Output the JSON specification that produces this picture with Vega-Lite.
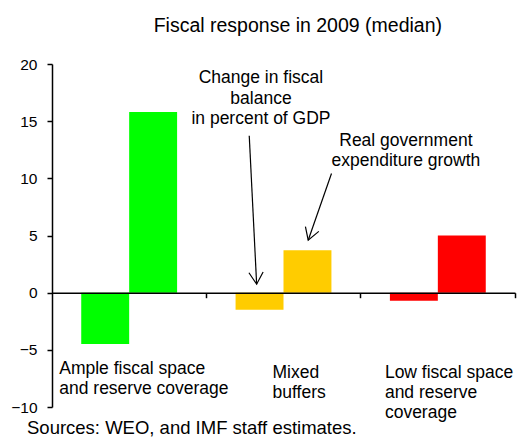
{
  "$schema": "https://vega.github.io/schema/vega-lite/v6.json",
  "width": 463,
  "height": 343,
  "autosize": {"type": "none"},
  "padding": {"left": 52, "top": 64, "right": 8, "bottom": 31},
  "background": "white",
  "config": {"view": {"stroke": null}, "font": "Liberation Sans"},
  "datasets": {
    "bars": [
      {"group": "Ample", "measure": "balance", "value": -4.5},
      {"group": "Ample", "measure": "expenditure", "value": 15.8},
      {"group": "Mixed", "measure": "balance", "value": -1.5},
      {"group": "Mixed", "measure": "expenditure", "value": 3.7},
      {"group": "Low", "measure": "balance", "value": -0.7},
      {"group": "Low", "measure": "expenditure", "value": 5.0}
    ],
    "labels": [
      {"x": 0.047, "y": -7.15, "text": "Ample fiscal space|and reserve   coverage"},
      {"x": 1.429, "y": -7.44, "text": "Mixed|buffers"},
      {"x": 2.157, "y": -7.47, "text": "Low fiscal space|and reserve|coverage"}
    ],
    "notes": [
      {"x": 1.354, "y": 18.3, "text": "Change in fiscal|balance|in percent of GDP"},
      {"x": 2.293, "y": 12.85, "text": "Real government|expenditure growth"}
    ],
    "source": [
      {"x": -0.162, "y": -12.4, "text": "Sources: WEO, and IMF staff estimates."}
    ],
    "heading": [
      {"x": 1.593, "y": 22.83, "text": "Fiscal response  in 2009 (median)"}
    ],
    "arrows": [
      {"arrow": "balance", "x": 1.278, "y": 13.72, "x2": 1.326, "y2": 0.74},
      {"arrow": "expenditure", "x": 1.811, "y": 10.42, "x2": 1.66, "y2": 4.59}
    ]
  },
  "layer": [
    {
      "data": {"name": "bars"},
      "mark": {"type": "bar"},
      "encoding": {
        "x": {
          "field": "group",
          "type": "nominal",
          "sort": ["Ample", "Mixed", "Low"],
          "scale": {"paddingInner": 0, "paddingOuter": 0},
          "axis": {
            "orient": "bottom",
            "offset": -114.3,
            "labels": false,
            "title": null,
            "grid": false,
            "domainColor": "black",
            "domainWidth": 1.5,
            "ticks": true,
            "tickColor": "black",
            "tickSize": 5,
            "tickWidth": 1.5,
            "bandPosition": 1,
            "zindex": 1
          }
        },
        "xOffset": {
          "field": "measure",
          "type": "nominal",
          "sort": ["balance", "expenditure"],
          "scale": {"paddingInner": 0, "paddingOuter": 0.61}
        },
        "y": {
          "field": "value",
          "type": "quantitative",
          "scale": {"domain": [-10, 20], "nice": false, "zero": false},
          "axis": {
            "values": [-10, -5, 0, 5, 10, 15, 20],
            "title": null,
            "grid": false,
            "domainColor": "black",
            "domainWidth": 1.5,
            "tickColor": "black",
            "tickSize": 5,
            "tickWidth": 1.5,
            "labelFontSize": 15.5,
            "labelColor": "black",
            "labelFont": "Liberation Sans",
            "labelPadding": 10
          }
        },
        "color": {
          "field": "group",
          "type": "nominal",
          "scale": {"domain": ["Ample", "Mixed", "Low"], "range": ["#00ff00", "#ffcc00", "#ff0000"]},
          "legend": null
        }
      }
    },
    {
      "data": {"name": "labels"},
      "mark": {"type": "text", "align": "left", "baseline": "alphabetic", "lineBreak": "|", "fontSize": 17.5, "lineHeight": 20, "color": "black", "font": "Liberation Sans"},
      "encoding": {
        "x": {"field": "x", "type": "quantitative", "scale": {"domain": [0, 3], "nice": false, "zero": false}, "axis": null},
        "y": {"field": "y", "type": "quantitative"},
        "text": {"field": "text"}
      }
    },
    {
      "data": {"name": "notes"},
      "mark": {"type": "text", "align": "center", "baseline": "alphabetic", "lineBreak": "|", "fontSize": 17.5, "lineHeight": 20.5, "color": "black", "font": "Liberation Sans"},
      "encoding": {
        "x": {"field": "x", "type": "quantitative", "scale": {"domain": [0, 3], "nice": false, "zero": false}, "axis": null},
        "y": {"field": "y", "type": "quantitative"},
        "text": {"field": "text"}
      }
    },
    {
      "data": {"name": "source"},
      "mark": {"type": "text", "align": "left", "baseline": "alphabetic", "fontSize": 18.5, "color": "black", "font": "Liberation Sans"},
      "encoding": {
        "x": {"field": "x", "type": "quantitative", "scale": {"domain": [0, 3], "nice": false, "zero": false}, "axis": null},
        "y": {"field": "y", "type": "quantitative"},
        "text": {"field": "text"}
      }
    },
    {
      "data": {"name": "heading"},
      "mark": {"type": "text", "align": "center", "baseline": "alphabetic", "fontSize": 19.5, "color": "black", "font": "Liberation Sans"},
      "encoding": {
        "x": {"field": "x", "type": "quantitative", "scale": {"domain": [0, 3], "nice": false, "zero": false}, "axis": null},
        "y": {"field": "y", "type": "quantitative"},
        "text": {"field": "text"}
      }
    },
    {
      "data": {"name": "arrows"},
      "mark": {"type": "rule", "color": "black", "strokeWidth": 1.2},
      "encoding": {
        "x": {"field": "x", "type": "quantitative", "scale": {"domain": [0, 3], "nice": false, "zero": false}, "axis": null},
        "y": {"field": "y", "type": "quantitative"},
        "x2": {"field": "x2"},
        "y2": {"field": "y2"}
      }
    },
    {
      "data": {"name": "arrows"},
      "transform": [{"filter": "datum.arrow === 'balance'"}],
      "mark": {"type": "point", "shape": "M-0.6,-1L0,0L0.6,-1", "size": 560, "filled": false, "color": "black", "strokeWidth": 1.2, "opacity": 1, "angle": 357},
      "encoding": {
        "x": {"field": "x2", "type": "quantitative", "scale": {"domain": [0, 3], "nice": false, "zero": false}, "axis": null},
        "y": {"field": "y2", "type": "quantitative"}
      }
    },
    {
      "data": {"name": "arrows"},
      "transform": [{"filter": "datum.arrow === 'expenditure'"}],
      "mark": {"type": "point", "shape": "M-0.6,-1L0,0L0.6,-1", "size": 560, "filled": false, "color": "black", "strokeWidth": 1.2, "opacity": 1, "angle": 19.4},
      "encoding": {
        "x": {"field": "x2", "type": "quantitative", "scale": {"domain": [0, 3], "nice": false, "zero": false}, "axis": null},
        "y": {"field": "y2", "type": "quantitative"}
      }
    }
  ],
  "resolve": {"scale": {"x": "independent"}, "axis": {"x": "independent"}}
}
